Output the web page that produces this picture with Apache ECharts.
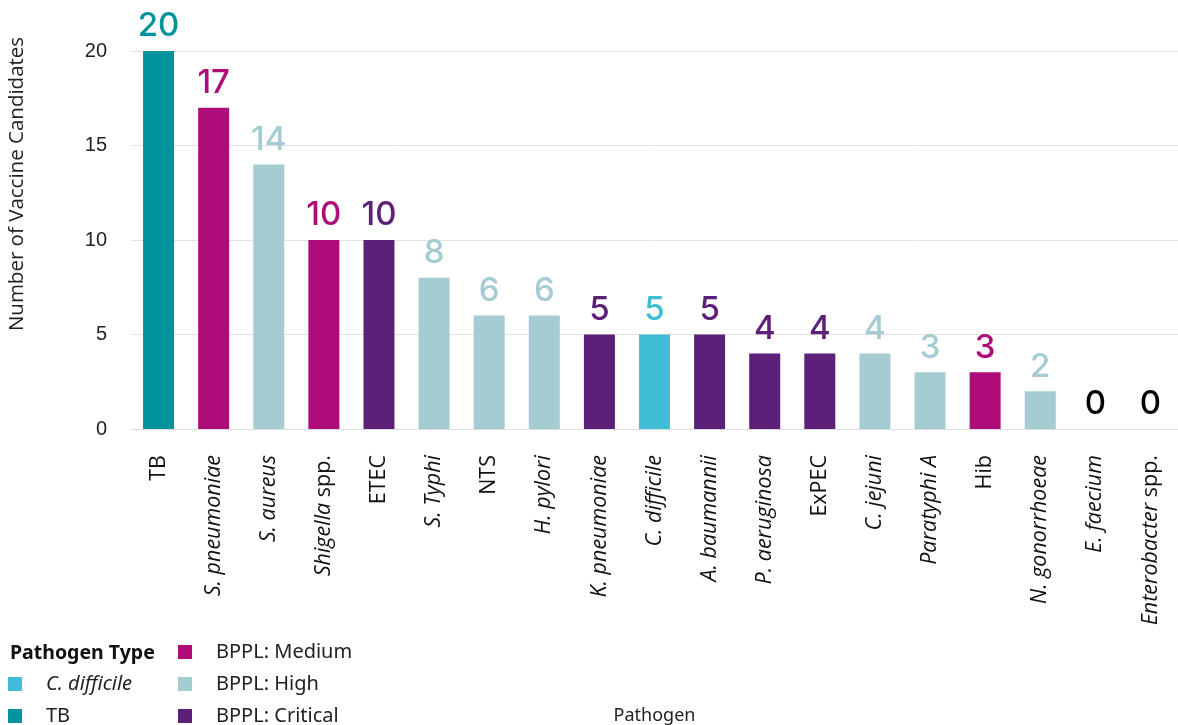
<!DOCTYPE html>
<html>
<head>
<meta charset="utf-8">
<script src="https://cdn.jsdelivr.net/npm/echarts@6/dist/echarts.min.js"></script>
<style>
  html, body { margin: 0; padding: 0; background: #fff; }
  #main { width: 1178px; height: 725px; }
</style>
</head>
<body>
<div id="main"></div>
<script>
// chart data
const categories = ['TB', 'S. pneumoniae', 'S. aureus', 'Shigella spp.', 'ETEC', 'S. Typhi', 'NTS', 'H. pylori',
  'K. pneumoniae', 'C. difficile', 'A. baumannii', 'P. aeruginosa', 'ExPEC', 'C. jejuni', 'Paratyphi A', 'Hib',
  'N. gonorrhoeae', 'E. faecium', 'Enterobacter spp.'];
const values = [20, 17, 14, 10, 10, 8, 6, 6, 5, 5, 5, 4, 4, 4, 3, 3, 2, 0, 0];
const types = ['TB', 'BPPL: Medium', 'BPPL: High', 'BPPL: Medium', 'BPPL: Critical', 'BPPL: High', 'BPPL: High',
  'BPPL: High', 'BPPL: Critical', 'C. difficile', 'BPPL: Critical', 'BPPL: Critical', 'BPPL: Critical',
  'BPPL: High', 'BPPL: High', 'BPPL: Medium', 'BPPL: High', 'None', 'None'];
const typeNames = ['C. difficile', 'TB', 'BPPL: Medium', 'BPPL: High', 'BPPL: Critical', 'None'];
const typeColors = {
  'C. difficile': '#3FBDD4',
  'TB': '#00939B',
  'BPPL: Medium': '#AE0C79',
  'BPPL: High': '#A5CBD3',
  'BPPL: Critical': '#5D2079',
  'None': '#000000'
};
const plainLabels = ['TB', 'ETEC', 'NTS', 'ExPEC', 'Hib'];

function catLabel(name) {
  if (plainLabels.indexOf(name) >= 0) return name;
  if (name.endsWith(' spp.')) return '{i|' + name.replace(' spp.', '') + '} spp.';
  return '{i|' + name + '}';
}

const myChart = echarts.init(document.getElementById('main'));

const series = typeNames.map(t => ({
  name: t,
  type: 'bar',
  stack: 'all',
  barWidth: 31,
  data: values.map((v, i) => (types[i] === t ? v : '-')),
  itemStyle: { color: typeColors[t] },
  label: {
    show: true,
    position: 'top',
    distance: 8,
    color: typeColors[t],
    fontFamily: 'Inter',
    fontWeight: 500,
    fontSize: 33
  }
}));

const legendText = {
  fontFamily: 'Noto Sans', fontSize: 20, color: '#222', padding: [0, 0, 0, 19],
  rich: { i: { fontFamily: 'Noto Sans', fontStyle: 'italic', fontSize: 20, color: '#222' } }
};

myChart.setOption({
  animation: false,
  grid: { left: 131, right: 0, top: 51, bottom: 296, outerBoundsMode: 'none' },
  title: {
    text: 'Pathogen Type',
    left: 5,
    top: 638,
    textStyle: { fontFamily: 'Noto Sans', fontWeight: 'bold', fontSize: 19.5, color: '#111' }
  },
  legend: [
    {
      data: ['C. difficile', 'TB'],
      orient: 'vertical',
      left: 8,
      top: 674,
      height: 200,
      padding: 0,
      itemWidth: 14,
      itemHeight: 14,
      itemGap: 12,
      icon: 'rect',
      formatter: name => (name === 'C. difficile' ? '{i|C. difficile}' : name),
      textStyle: legendText
    },
    {
      data: ['BPPL: Medium', 'BPPL: High', 'BPPL: Critical'],
      orient: 'vertical',
      left: 178,
      top: 642,
      height: 200,
      padding: 0,
      itemWidth: 14,
      itemHeight: 14,
      itemGap: 12,
      icon: 'rect',
      textStyle: legendText
    }
  ],
  xAxis: {
    type: 'category',
    data: categories,
    name: 'Pathogen',
    nameLocation: 'middle',
    nameGap: 278,
    nameTextStyle: { fontFamily: 'Noto Sans', fontSize: 18, color: '#222' },
    axisLine: { lineStyle: { color: '#dddddd' } },
    axisTick: { show: false },
    axisLabel: {
      rotate: 90,
      margin: 26,
      interval: 0,
      fontFamily: 'Open Sans',
      fontSize: 21.5,
      color: '#111',
      formatter: catLabel,
      rich: { i: { fontFamily: 'Open Sans', fontStyle: 'italic', fontSize: 21.5, color: '#111' } }
    }
  },
  yAxis: {
    type: 'value',
    min: 0,
    max: 20,
    interval: 5,
    name: 'Number of Vaccine Candidates',
    nameLocation: 'middle',
    nameGap: 103,
    nameRotate: 90,
    nameTextStyle: { fontFamily: 'Open Sans', fontSize: 20.5, color: '#222', padding: [0, 0, 0, 112] },
    axisLine: { show: false },
    axisTick: { show: false },
    splitLine: { lineStyle: { color: '#e3e3e3' } },
    axisLabel: { margin: 24, fontFamily: 'Liberation Sans', fontSize: 20, color: '#222' }
  },
  series: series
});
</script>
</body>
</html>
